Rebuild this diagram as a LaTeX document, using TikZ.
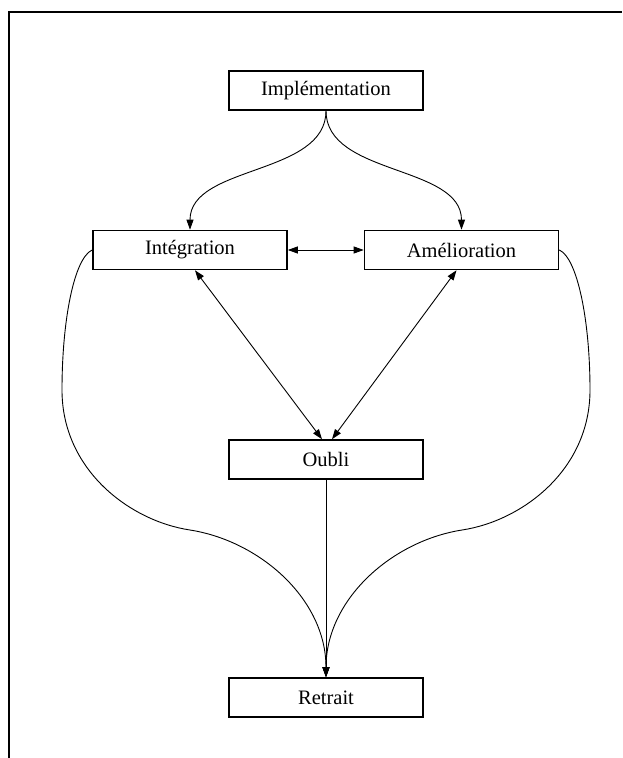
\documentclass[tikz,border=0pt]{standalone}
\usepackage{fontspec}
\setmainfont{Liberation Serif}
\usetikzlibrary{arrows.meta, positioning}

\begin{document}
\begin{tikzpicture}
% Style
[
    x=1pt, y=-1pt, line cap=round,
    stage/.style={draw, line width=1.6pt, minimum width=194pt, minimum height=39pt, inner sep=0pt,
        font=\fontsize{20.5}{24}\selectfont},
    flow/.style={line width=0.9pt, -{Triangle[length=10pt, width=7pt]}},
    twoway/.style={line width=0.9pt, {Triangle[length=10pt, width=7pt]}-{Triangle[length=10pt, width=7pt]}}
]

%================================== Prepare ==================================
\useasboundingbox (0,0) rectangle (622,758);
\draw[line width=1.8pt, line cap=butt] (9,758) -- (9,12) -- (622,12);

%=================================== Start ===================================
{
    % Draw: Stages
    \node[stage] (impl)    at (326,90.5)  {Implémentation};
    \node[stage] (integ)   at (190,250)   {Intégration};
    \node[stage] (amel)    at (461.5,250) {Amélioration};
    \node[stage] (oubli)   at (326,459.5) {Oubli};
    \node[stage] (retrait) at (326,697.5) {Retrait};

    % Draw: Links from top
    \draw[flow] (impl.south) .. controls +(0,65) and +(0,-65) .. (integ.north);
    \draw[flow] (impl.south) .. controls +(0,65) and +(0,-65) .. (amel.north);
    \draw[twoway] (integ.east) -- (amel.west);
    \draw[twoway] ([xshift=5pt]integ.south) -- ([xshift=-4pt]oubli.north);
    \draw[twoway] ([xshift=-5pt]amel.south) -- ([xshift=6pt]oubli.north);
    \draw[flow] (oubli.south) -- (retrait.north);

    % Draw: Side links
    \foreach \side/\sgn in {integ.west/-1, amel.east/1} {
        \draw[flow] (\side) .. controls +({18*\sgn},8) and +(0,-70) .. ({326+264*\sgn},390)
            .. controls +(0,80) and +({60*\sgn},-9) .. ({326+136*\sgn},530)
            .. controls +({-70*\sgn},11) and +(0,-78) .. (retrait.north);
    }
}
%==================================== END ====================================

\end{tikzpicture}
\end{document}
